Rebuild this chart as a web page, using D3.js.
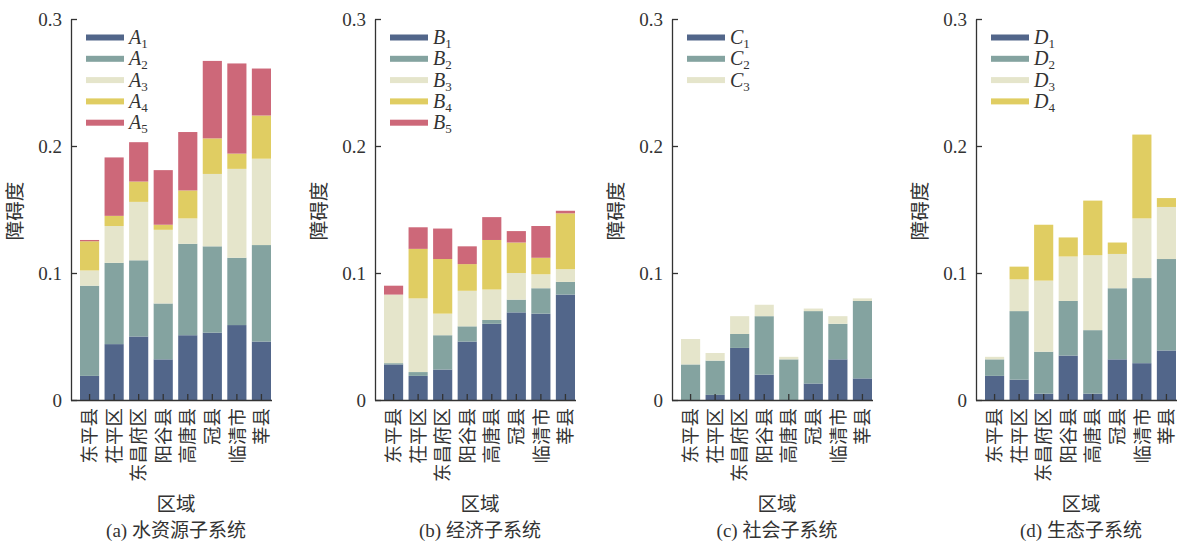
<!DOCTYPE html>
<html><head><meta charset="utf-8">
<script src="https://cdn.jsdelivr.net/npm/d3@7"></script>
<style>
html,body{margin:0;padding:0;background:#fff;}
svg{display:block;}
</style></head>
<body>
<svg id="chart" width="1178" height="543"></svg>
<script>
const categories = ["东平县","茌平区","东昌府区","阳谷县","高唐县","冠县","临清市","莘县"];

const A1 = [0.019,0.044,0.050,0.032,0.051,0.053,0.059,0.046];
const A2 = [0.071,0.064,0.060,0.044,0.072,0.068,0.053,0.076];
const A3 = [0.012,0.029,0.046,0.058,0.020,0.057,0.070,0.068];
const A4 = [0.023,0.008,0.016,0.004,0.022,0.028,0.012,0.034];
const A5 = [0.001,0.046,0.031,0.043,0.046,0.061,0.071,0.037];

const B1 = [0.028,0.019,0.024,0.046,0.060,0.069,0.068,0.083];
const B2 = [0.001,0.003,0.027,0.012,0.003,0.010,0.020,0.010];
const B3 = [0.054,0.058,0.017,0.028,0.024,0.021,0.011,0.010];
const B4 = [0.000,0.039,0.043,0.021,0.039,0.024,0.013,0.044];
const B5 = [0.007,0.017,0.024,0.014,0.018,0.009,0.025,0.002];

const C1 = [0.000,0.004,0.041,0.020,0.000,0.013,0.032,0.017];
const C2 = [0.028,0.027,0.011,0.046,0.032,0.057,0.028,0.061];
const C3 = [0.020,0.006,0.014,0.009,0.002,0.002,0.006,0.002];

const D1 = [0.019,0.016,0.005,0.035,0.005,0.032,0.029,0.039];
const D2 = [0.013,0.054,0.033,0.043,0.050,0.056,0.067,0.072];
const D3 = [0.002,0.025,0.056,0.035,0.059,0.027,0.047,0.041];
const D4 = [0.000,0.010,0.044,0.015,0.043,0.009,0.066,0.007];

const yTicks = [0, 0.1, 0.2, 0.3];
const yTickLabels = ["0", "0.1", "0.2", "0.3"];
const yLabel = "障碍度";
const xLabel = "区域";
const captions = ["(a) 水资源子系统", "(b) 经济子系统", "(c) 社会子系统", "(d) 生态子系统"];
const colors = ["#52668a", "#84a3a0", "#e5e5cb", "#e0cd62", "#cd6879"];

const panels = [
  {letter: "A", series: [A1, A2, A3, A4, A5], x0: 71, caption: captions[0]},
  {letter: "B", series: [B1, B2, B3, B4, B5], x0: 375, caption: captions[1]},
  {letter: "C", series: [C1, C2, C3], x0: 672, caption: captions[2]},
  {letter: "D", series: [D1, D2, D3, D4], x0: 976, caption: captions[3]}
];

const svg = d3.select("#chart");
const serif = "'Liberation Serif','Times New Roman','Noto Sans CJK SC',serif";
const cjk = "'Noto Sans CJK SC',sans-serif";
const textColor = "#333";

const y = d3.scaleLinear().domain([0, 0.3]).range([400, 19]);

panels.forEach(p => {
  const g = svg.append("g");
  const x = d3.scaleBand().domain(categories).range([p.x0 + 9, p.x0 + 200]).paddingInner(0.22).paddingOuter(0);

  const keys = p.series.map((s, i) => p.letter + (i + 1));
  const rows = categories.map((c, j) => {
    const r = {cat: c};
    keys.forEach((k, i) => r[k] = p.series[i][j]);
    return r;
  });
  const stacked = d3.stack().keys(keys)(rows);

  stacked.forEach((layer, i) => {
    g.append("g").selectAll("rect").data(layer).join("rect")
      .attr("x", d => x(d.data.cat))
      .attr("width", x.bandwidth())
      .attr("y", d => y(d[1]))
      .attr("height", d => Math.max(0, y(d[0]) - y(d[1])))
      .attr("fill", colors[i]);
  });

  // y axis
  const yAxis = d3.axisLeft(y).tickValues(yTicks)
    .tickFormat((d, i) => yTickLabels[i])
    .tickSizeInner(-6).tickSizeOuter(0).tickPadding(9);
  const ya = g.append("g").attr("transform", `translate(${p.x0},0)`).call(yAxis)
    .attr("font-family", serif);
  ya.select(".domain").attr("stroke", textColor).attr("stroke-width", 1.3);
  ya.selectAll(".tick line").attr("stroke", textColor).attr("stroke-width", 1.3);
  ya.selectAll(".tick text").style("font-family", serif).attr("font-size", 19).attr("fill", textColor);

  // x axis
  const xAxis = d3.axisBottom(x).tickSizeInner(-6).tickSizeOuter(0).tickPadding(0);
  const xa = g.append("g").attr("transform", `translate(0,400)`).call(xAxis);
  xa.select(".domain").remove();
  xa.selectAll(".tick line").attr("stroke", textColor).attr("stroke-width", 1.3);
  xa.selectAll(".tick text")
    .style("font-family", cjk).attr("font-size", 18.5).attr("fill", textColor)
    .attr("transform", "rotate(-90)")
    .attr("x", -8).attr("y", 0).attr("dy", "0.36em")
    .attr("text-anchor", "end");
  g.append("line").attr("x1", p.x0).attr("x2", p.x0 + 201).attr("y1", 400.5).attr("y2", 400.5)
    .attr("stroke", textColor).attr("stroke-width", 1.3);

  // y label
  g.append("text")
    .attr("transform", `translate(${p.x0 - 49},211) rotate(-90)`)
    .attr("text-anchor", "middle")
    .style("font-family", cjk).attr("font-size", 19.5).attr("fill", textColor)
    .text(yLabel);

  // x label
  g.append("text").attr("x", p.x0 + 105).attr("y", 511)
    .attr("text-anchor", "middle")
    .style("font-family", cjk).attr("font-size", 19.5).attr("fill", textColor)
    .text(xLabel);

  // caption
  g.append("text").attr("x", p.x0 + 105).attr("y", 537)
    .attr("text-anchor", "middle")
    .style("font-family", serif).attr("font-size", 19).attr("fill", textColor)
    .text(p.caption);

  // legend
  const leg = g.append("g");
  keys.forEach((k, i) => {
    const ly = 37.5 + i * 21.3;
    leg.append("rect").attr("x", p.x0 + 15).attr("y", ly - 3).attr("width", 38).attr("height", 6)
      .attr("fill", colors[i]);
    const t = leg.append("text").attr("x", p.x0 + 58).attr("y", ly + 6.5)
      .style("font-family", serif).attr("font-size", 20).attr("fill", textColor);
    t.append("tspan").attr("font-style", "italic").text(p.letter);
    t.append("tspan").attr("font-size", 13).attr("dy", 4).text(String(i + 1));
  });
});
</script>
</body></html>
